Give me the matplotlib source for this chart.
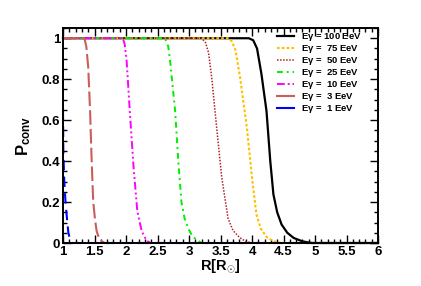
import matplotlib
matplotlib.use("Agg")
import matplotlib.pyplot as plt
from matplotlib.ticker import MultipleLocator, FuncFormatter
from matplotlib.lines import Line2D

plt.rcParams['font.family'] = ['Liberation Sans', 'DejaVu Sans']
plt.rcParams['font.weight'] = 'bold'
plt.rcParams['mathtext.fontset'] = 'custom'
plt.rcParams['mathtext.rm'] = 'Liberation Sans:bold'
plt.rcParams['mathtext.it'] = 'Liberation Sans:bold'
plt.rcParams['mathtext.bf'] = 'Liberation Sans:bold'
plt.rcParams['mathtext.sf'] = 'Liberation Sans'

# ---- data ----
r_100 = [1.0, 3.95, 4.02, 4.08, 4.15, 4.23, 4.29, 4.34, 4.40, 4.47, 4.56, 4.66, 4.80, 4.95, 6.0]
p_100 = [1.0, 1.0, 0.99, 0.95, 0.825, 0.645, 0.40, 0.237, 0.15, 0.09, 0.05, 0.025, 0.008, 0.0, 0.0]

r_75 = [1.0, 3.62, 3.68, 3.74, 3.81, 3.92, 4.00, 4.07, 4.14, 4.23, 4.33, 4.45, 6.0]
p_75 = [1.0, 1.0, 0.985, 0.94, 0.81, 0.56, 0.32, 0.14, 0.07, 0.03, 0.01, 0.0, 0.0]

r_50 = [1.0, 3.20, 3.26, 3.31, 3.36, 3.44, 3.52, 3.62, 3.70, 3.81, 3.90, 4.00, 6.0]
p_50 = [1.0, 1.0, 0.98, 0.93, 0.81, 0.56, 0.32, 0.12, 0.06, 0.025, 0.008, 0.0, 0.0]

r_25 = [1.0, 2.62, 2.67, 2.70, 2.78, 2.83, 2.88, 2.93, 2.99, 3.05, 3.12, 3.20, 6.0]
p_25 = [1.0, 1.0, 0.96, 0.89, 0.645, 0.40, 0.20, 0.12, 0.07, 0.035, 0.016, 0.0, 0.0]

r_10 = [1.0, 1.95, 1.98, 2.01, 2.06, 2.12, 2.18, 2.25, 2.33, 2.40, 6.0]
p_10 = [1.0, 1.0, 0.97, 0.89, 0.645, 0.37, 0.155, 0.057, 0.01, 0.0, 0.0]

r_3 = [1.0, 1.34, 1.37, 1.40, 1.43, 1.455, 1.48, 1.51, 1.535, 1.57, 1.61, 1.66, 6.0]
p_3 = [1.0, 1.0, 0.96, 0.86, 0.645, 0.40, 0.20, 0.11, 0.057, 0.025, 0.01, 0.0, 0.0]

r_1 = [1.0, 1.005, 1.02, 1.04, 1.06, 1.085, 1.11, 1.14, 6.0]
p_1 = [0.65, 0.45, 0.30, 0.20, 0.13, 0.05, 0.02, 0.0, 0.0]

labels = [r"E$\mathsf{γ}$ = 100 EeV", r"E$\mathsf{γ}$ =  75 EeV", r"E$\mathsf{γ}$ =  50 EeV",
          r"E$\mathsf{γ}$ =  25 EeV", r"E$\mathsf{γ}$ =  10 EeV", r"E$\mathsf{γ}$ =  3 EeV",
          r"E$\mathsf{γ}$ =  1 EeV"]

fig = plt.figure(figsize=(4.21, 2.86), dpi=100)
ax = fig.add_axes([63/421, 1-243/286, (378-63)/421, (243-28)/286])

styles = [
    dict(color='black', lw=1.6, ls='-'),
    dict(color='#ffc000', lw=1.5, ls=(0, (1.3, 1.0))),
    dict(color='#b22222', lw=1.1, ls=(0, (1, 1))),
    dict(color='#00ee00', lw=1.4, ls=(0, (3, 2, 1, 2))),
    dict(color='#ff00ff', lw=1.4, ls=(0, (4, 1.5, 1, 1.5, 1, 1.5))),
    dict(color='#cd5c5c', lw=1.5, ls=(0, (7, 2))),
    dict(color='#0000ff', lw=1.5, ls=(0, (5, 3))),
]
series = [(r_100, p_100), (r_75, p_75), (r_50, p_50), (r_25, p_25),
          (r_10, p_10), (r_3, p_3), (r_1, p_1)]
for (r, p), st in zip(series, styles):
    ax.plot(r, p, **st, clip_on=False)

ax.set_xlim(1, 6)
ax.set_ylim(0, 1.05)
for s in ax.spines.values():
    s.set_linewidth(1.4)
ax.xaxis.set_major_locator(MultipleLocator(0.5))
ax.xaxis.set_minor_locator(MultipleLocator(0.1))
ax.yaxis.set_major_locator(MultipleLocator(0.2))
ax.yaxis.set_minor_locator(MultipleLocator(0.05))
fmt = FuncFormatter(lambda v, pos: "%g" % round(v, 2))
ax.xaxis.set_major_formatter(fmt)
ax.yaxis.set_major_formatter(fmt)
ax.tick_params(which='both', direction='in', top=True, right=True, width=1.0)
ax.tick_params(which='major', length=6)
ax.tick_params(which='minor', length=3)
ax.tick_params(axis='both', labelsize=9.5, pad=2)
for lab in ax.get_xticklabels() + ax.get_yticklabels():
    lab.set_fontweight('bold')

ax.set_xlabel(r"R[R$_{\odot}$]", fontsize=10.5, fontweight='bold', labelpad=0)
ax.set_ylabel(r"P$_{\rm conv}$", fontsize=12, fontweight='bold', labelpad=6)

handles = []
for st in styles:
    ls = st['ls']
    if st['color'] in ('#cd5c5c', '#0000ff'):
        ls = '-'
    handles.append(Line2D([], [], color=st['color'], lw=st['lw'], ls=ls))
leg = ax.legend(handles, labels, loc='upper left', bbox_to_anchor=(277/421, 1-31/286),
                bbox_transform=fig.transFigure, frameon=False, fontsize=6.8,
                handlelength=1.8, handletextpad=0.7, labelspacing=0.0,
                borderpad=0.0, borderaxespad=0.0)
for t in leg.get_texts():
    t.set_fontweight('bold')

fig.savefig("out.png", dpi=100)
